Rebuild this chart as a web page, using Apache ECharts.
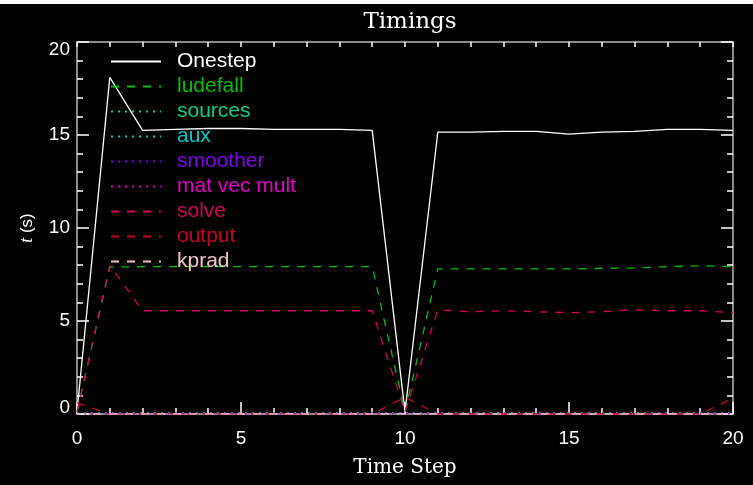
<!DOCTYPE html>
<html>
<head>
<meta charset="utf-8">
<script src="https://cdn.jsdelivr.net/npm/echarts@6/dist/echarts.min.js"></script>
<style>
  html, body { margin: 0; padding: 0; background: #000; }
  #chart { width: 753px; height: 485px; }
</style>
</head>
<body>
<div id="chart"></div>
<script>
// Time steps 0..20
const steps = [0,1,2,3,4,5,6,7,8,9,10,11,12,13,14,15,16,17,18,19,20];

// Per-step timings (seconds)
const onestep  = [0.1,18.1,15.25,15.3,15.35,15.35,15.3,15.3,15.3,15.25,0.1,15.15,15.15,15.2,15.2,15.05,15.15,15.2,15.3,15.3,15.25];
const ludefall = [0.1,7.9,7.92,7.92,7.92,7.92,7.92,7.92,7.92,7.92,0.1,7.8,7.8,7.8,7.8,7.8,7.83,7.85,7.92,7.97,7.92];
const sources  = [0.05,0.05,0.05,0.05,0.05,0.05,0.05,0.05,0.05,0.05,0.05,0.05,0.05,0.05,0.05,0.05,0.05,0.05,0.05,0.05,0.05];
const aux      = [0.05,0.05,0.05,0.05,0.05,0.05,0.05,0.05,0.05,0.05,0.05,0.05,0.05,0.05,0.05,0.05,0.05,0.05,0.05,0.05,0.05];
const smoother = [0.03,0.03,0.03,0.03,0.03,0.03,0.03,0.03,0.03,0.03,0.03,0.03,0.03,0.03,0.03,0.03,0.03,0.03,0.03,0.03,0.03];
const matvec   = [0.02,0.02,0.02,0.02,0.02,0.02,0.02,0.02,0.02,0.02,0.02,0.02,0.02,0.02,0.02,0.02,0.02,0.02,0.02,0.02,0.02];
const solve    = [0.1,8.0,5.55,5.55,5.55,5.55,5.55,5.55,5.55,5.55,0.1,5.6,5.5,5.55,5.5,5.45,5.5,5.6,5.55,5.55,5.45];
const output   = [0.6,0,0,0,0,0,0,0,0,0,0.9,0,0,0,0,0,0,0,0,0,0.85];
const kprad    = [0,0,0,0,0,0,0,0,0,0,0,0,0,0,0,0,0,0,0,0,0];

const xTicks = [0, 5, 10, 15, 20];
const yTicks = [0, 5, 10, 15, 20];

const DASH = [8, 8];
const DOT = [2, 5];

const seriesDefs = [
  { name: 'Onestep',      data: onestep,  color: '#ffffff', type: 'solid', width: 1.3 },
  { name: 'ludefall',     data: ludefall, color: '#00c000', type: DASH, width: 1.3 },
  { name: 'sources',      data: sources,  color: '#00d080', type: DOT, width: 1.6 },
  { name: 'aux',          data: aux,      color: '#00c8c8', type: DOT, width: 1.6 },
  { name: 'smoother',     data: smoother, color: '#8000f0', type: DOT, width: 1.6 },
  { name: 'mat vec mult', data: matvec,   color: '#e000c8', type: DOT, width: 1.6 },
  { name: 'solve',        data: solve,    color: '#d2005a', type: DASH, width: 1.3 },
  { name: 'output',       data: output,   color: '#c80028', type: DASH, width: 1.3 },
  { name: 'kprad',        data: kprad,    color: '#f0c4c4', type: DASH, width: 1.3 }
];

const frame = '#b8b8b8';
const labelFont = 'Liberation Sans';

function axisCommon(showLabels) {
  return {
    min: 0, max: 20, interval: 5,
    axisLine: { show: true, onZero: false, lineStyle: { color: frame, width: 1.5 } },
    axisTick: { show: true, inside: true, length: 12, lineStyle: { color: '#ffffff', width: 1.5 } },
    minorTick: { show: true, splitNumber: 5, length: 6, lineStyle: { color: '#ffffff', width: 1.5 } },
    splitLine: { show: false },
    axisLabel: { show: showLabels, color: '#ffffff', fontFamily: labelFont, fontSize: 19 }
  };
}

const chart = echarts.init(document.getElementById('chart'), null, { renderer: 'canvas' });

chart.setOption({
  backgroundColor: '#000000',
  animation: false,
  title: {
    text: 'Timings',
    left: 405, top: 6, textAlign: 'center',
    textStyle: { color: '#ffffff', fontFamily: 'DejaVu Serif', fontSize: 23, fontWeight: 'normal' }
  },
  grid: { left: 77, right: 20, top: 42, bottom: 71, containLabel: false },
  legend: {
    orient: 'vertical',
    left: 110, top: 51, padding: 0,
    itemWidth: 50, itemHeight: 14, itemGap: 4,
    selectedMode: false,
    itemStyle: { opacity: 0 },
    textStyle: { fontFamily: labelFont, fontSize: 21, lineHeight: 14, padding: [0, 0, 0, 11] },
    data: seriesDefs.map(s => ({ name: s.name, textStyle: { color: s.color } }))
  },
  xAxis: [
    Object.assign(axisCommon(true), {
      type: 'value', position: 'bottom',
      name: 'Time Step', nameLocation: 'middle', nameGap: 44,
      nameTextStyle: { color: '#ffffff', fontFamily: 'DejaVu Serif', fontSize: 20 },
      axisLabel: { show: true, color: '#ffffff', fontFamily: labelFont, fontSize: 19, margin: 15,
        formatter: v => xTicks.includes(v) ? String(v) : '' }
    }),
    Object.assign(axisCommon(false), { type: 'value', position: 'top',
      axisTick: { show: true, inside: true, length: 5, lineStyle: { color: '#ffffff', width: 1.5 } },
      minorTick: { show: true, splitNumber: 5, length: 5, lineStyle: { color: '#ffffff', width: 1.5 } } })
  ],
  yAxis: [
    Object.assign(axisCommon(true), {
      type: 'value', position: 'left',
      name: '{i|t} (s)', nameLocation: 'middle', nameGap: 41, nameRotate: 90,
      nameTextStyle: { color: '#ffffff', fontFamily: labelFont, fontSize: 17,
        rich: { i: { fontStyle: 'italic', fontFamily: 'Liberation Serif', fontSize: 18, color: '#ffffff' } } },
      axisLabel: { show: true, color: '#ffffff', fontFamily: labelFont, fontSize: 19, margin: 7,
        verticalAlign: 'middle',
        formatter: v => {
          if (!yTicks.includes(v)) return '';
          if (v === 20) return '{hi|' + v + '}';
          if (v === 0) return '{lo|' + v + '}';
          return String(v);
        },
        rich: {
          hi: { color: '#ffffff', fontFamily: labelFont, fontSize: 19, padding: [16, 0, 0, 0] },
          lo: { color: '#ffffff', fontFamily: labelFont, fontSize: 19, padding: [0, 0, 12, 0] }
        }
      }
    }),
    Object.assign(axisCommon(false), { type: 'value', position: 'right' })
  ],
  graphic: [
    { type: 'rect', shape: { x: 0, y: 0, width: 753, height: 4 }, style: { fill: '#ffffff' }, silent: true }
  ],
  series: seriesDefs.map(s => ({
    name: s.name,
    type: 'line',
    xAxisIndex: 0, yAxisIndex: 0,
    data: steps.map((x, i) => [x, s.data[i]]),
    symbol: 'none',
    color: s.color,
    lineStyle: { color: s.color, width: s.width, type: s.type },
    z: 3
  }))
});
</script>
</body>
</html>
